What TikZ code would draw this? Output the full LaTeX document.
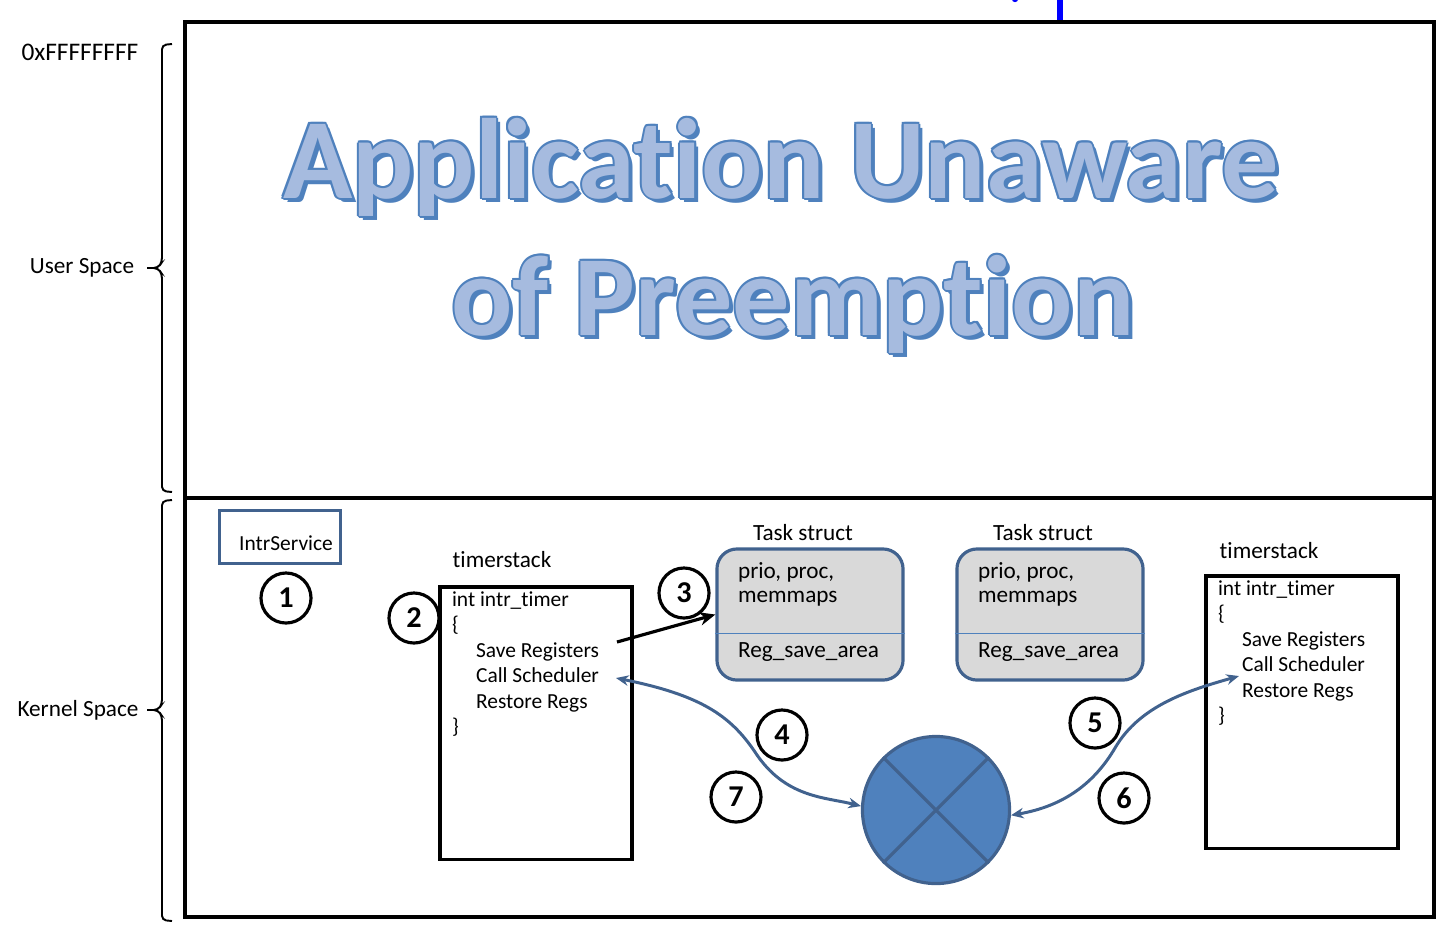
\documentclass[tikz,border=0pt]{standalone}
\usepackage{fontspec}
\setmainfont{Carlito}[Ligatures=NoCommon]
\usetikzlibrary{arrows.meta,calc,positioning}
\definecolor{accblue}{RGB}{79,129,189}
\definecolor{darkblue}{RGB}{65,98,142}
\definecolor{titlefill}{RGB}{166,187,223}
\definecolor{taskgray}{RGB}{217,217,217}

\begin{document}
\begin{tikzpicture}[x=0.01cm,y=-0.01cm,>=Stealth,
  font=\fontsize{6.6}{7.3}\selectfont,
  numcirc/.style={circle,draw,line width=0.9pt,minimum size=0.5cm,inner sep=0pt,font=\fontsize{8.6}{9}\selectfont\bfseries},
  codebox/.style={draw,line width=0.9pt,minimum width=1.92cm,minimum height=2.72cm},
  taskbox/.style={draw=darkblue,fill=taskgray,line width=0.9pt,rounded corners=0.2cm,minimum width=1.86cm,minimum height=1.31cm},
  txt/.style={inner sep=0pt,anchor=base west},
  codetxt/.style={txt,font=\fontsize{6.1}{7}\selectfont},
  flow/.style={darkblue,line width=0.85pt,{Stealth[length=3.6pt,width=3pt]}-{Stealth[length=3.6pt,width=3pt]}},
  bigtitle/.style={inner sep=0pt,anchor=base,font=\fontsize{32.5}{39}\selectfont\bfseries}]
\useasboundingbox (0,0) rectangle (1454,938);

% frame: user space on top, kernel space below
\draw[line width=1.1pt] (185,22) rectangle (1434,917);
\draw[line width=1.1pt] (185,498) -- (1434,498);
\draw[blue,line width=1.8pt] (1060,0) -- (1060,20);
\fill[blue] (1015,-1) circle (0.9pt);

% address range braces
\foreach \top/\tip/\bot in {44/268/492,500/710/921}{
  \draw[line width=0.55pt,rounded corners=1.2pt] (172,\top) -- (162,\top+1) -- (162,\tip-6) -- (158,\tip) -- (147,\tip);
  \draw[line width=0.55pt,rounded corners=1.2pt] (147,\tip) -- (158,\tip) -- (162,\tip+6) -- (162,\bot-1) -- (172,\bot);
}
\node[font=\fontsize{7.2}{8}\selectfont] (addr) at (80,52) {0xFFFFFFFF};
\node (user) at (82,268) {User Space};
\node (kern) at (78,710) {Kernel Space};

% title: shadow, rim, then fill
\foreach \ln/\tx/\ty/\words in {1/781/198/{Application Unaware},2/793/335/{of Preemption}}{
  \node[bigtitle,text=accblue] (shadow\ln) at (\tx+4,\ty+4) {\words};
  \foreach \dx/\dy [count=\k] in {-2/0,2/0,0/-2,0/2,-1.4/-1.4,1.4/-1.4,-1.4/1.4,1.4/1.4}
    \node[bigtitle,text=accblue] (rim\ln-\k) at (\tx+\dx,\ty+\dy) {\words};
  \node[bigtitle,text=titlefill] (title\ln) at (\tx,\ty) {\words};
}

% interrupt entry
\node[draw=darkblue,line width=0.9pt,minimum width=1.21cm,minimum height=0.53cm] (intr) at (280,537) {};
\node[font=\fontsize{6.1}{7}\selectfont] (intrlbl) at (286,543) {IntrService};

% timer stacks
\node[codebox] (stackA) at (536,723) {};
\node[codebox] (stackB) at (1302,712) {};
\node (stackAlbl) at (502,560) {timerstack};
\node (stackBlbl) at (1269,551) {timerstack};
\foreach \s in {stackA,stackB}{
  \foreach \code/\dx [count=\k from 0] in {{int intr\_timer}/13,{\{}/13,{Save Registers}/37,{Call Scheduler}/37,{Restore Regs}/37,{\}}/13}
    \node[codetxt] (\s-\k) at ($(\s.north west)+(\dx,21+25.5*\k)$) {\code};
}

% task structs
\node[taskbox] (taskA) at (810,614.5) {};
\node[taskbox] (taskB) at (1050,614.5) {};
\foreach \t/\lx in {taskA/803,taskB/1043}{
  \node (\t-lbl) at (\lx,533) {Task struct};
  \draw[accblue,line width=0.45pt] ($(\t.south west)!0.36!(\t.north west)$) -- ($(\t.south east)!0.36!(\t.north east)$);
  \node[txt] (\t-a) at ($(\t.north west)+(22,31)$) {prio, proc,};
  \node[txt] (\t-b) at ($(\t.north west)+(22,55)$) {memmaps};
  \node[txt] (\t-c) at ($(\t.north west)+(22,110)$) {Reg\_save\_area};
}

% scheduler
\node[circle,draw=darkblue,fill=accblue,line width=0.9pt,minimum size=1.47cm] (sched) at (936,810) {};
\draw[darkblue,line width=0.9pt] (sched.45) -- (sched.225) (sched.135) -- (sched.-45);

% steps
\foreach \n/\x/\y in {1/286/598,2/414/618,3/684/593,4/782/735,5/1095/723,6/1124/798,7/736/797}
  \node[numcirc] (step\n) at (\x,\y) {\n};

% save registers into the task struct
\coordinate (saveA) at (617,642);
\draw[-{Stealth[length=4.5pt,width=3.8pt]},line width=0.9pt] (saveA) -- (taskA.west);

% into the scheduler and back out
\coordinate (callA) at (616,678);
\coordinate (callB) at (1239,676);
\draw[flow] (callA) .. controls (700,695) and (730,715) .. (755,752) .. controls (785,798) and (825,797) .. (sched.177);
\draw[flow] (sched.-4) .. controls (1065,806) and (1095,782) .. (1115,748) .. controls (1140,705) and (1190,690) .. (callB);
\end{tikzpicture}
\end{document}
